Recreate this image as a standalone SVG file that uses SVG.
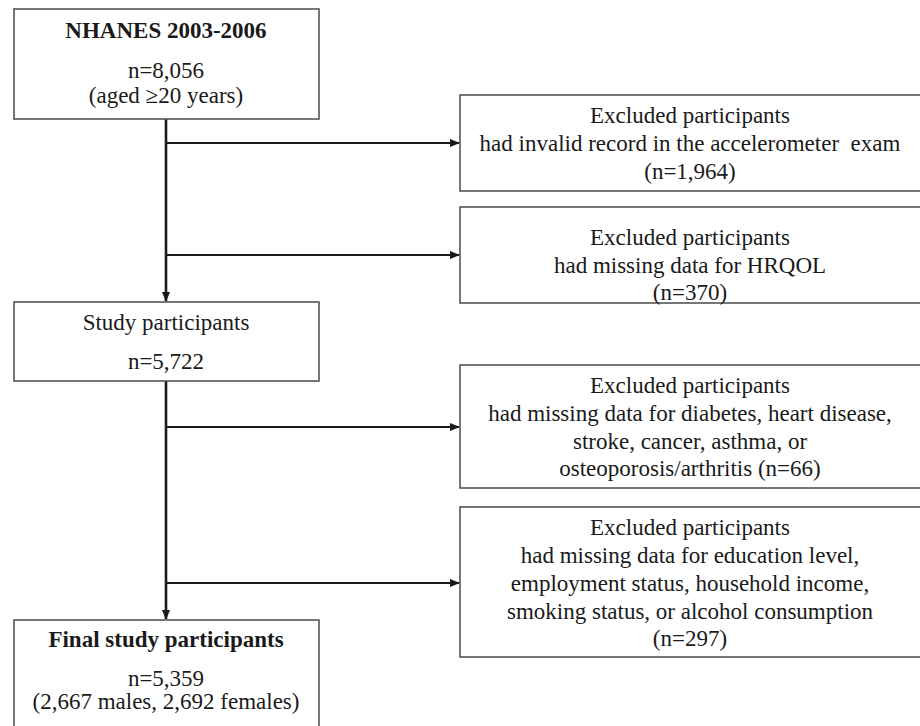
<svg xmlns="http://www.w3.org/2000/svg" width="920" height="726" viewBox="0 0 920 726">
<style>
  .box { fill: #ffffff; stroke: #555555; stroke-width: 1.6; }
  .t { font-family: "Liberation Serif", "Times New Roman", serif; font-size: 23px; fill: #1a1a1a; text-anchor: middle; }
  .b { font-weight: bold; }
  .trunk { stroke: #1a1a1a; stroke-width: 2.6; fill: none; }
  .branch { stroke: #1a1a1a; stroke-width: 2.2; fill: none; }
</style>
<defs>
  <marker id="arr" markerWidth="10" markerHeight="8" refX="9" refY="4" orient="auto" markerUnits="userSpaceOnUse">
    <path d="M0,0 L10,4 L0,8 Z" fill="#1a1a1a"/>
  </marker>
</defs>
<rect width="920" height="726" fill="#ffffff"/>

<g id="connectors">
  <path class="trunk" d="M166,119 V301" marker-end="url(#arr)"/>
  <path class="branch" d="M166,143 H459" marker-end="url(#arr)"/>
  <path class="branch" d="M166,255 H459" marker-end="url(#arr)"/>
  <path class="trunk" d="M166,381 V619" marker-end="url(#arr)"/>
  <path class="branch" d="M166,427 H459" marker-end="url(#arr)"/>
  <path class="branch" d="M166,583 H459" marker-end="url(#arr)"/>
</g>

<g id="nhanes">
  <rect class="box" x="14" y="9" width="305" height="110"/>
  <text class="t b" x="166" y="38">NHANES 2003-2006</text>
  <text class="t" x="166" y="78">n=8,056</text>
  <text class="t" x="166" y="103">(aged ≥20 years)</text>
</g>

<g id="excluded-accelerometer">
  <rect class="box" x="460" y="95" width="462" height="96"/>
  <text class="t" x="690" y="123">Excluded participants</text>
  <text class="t" x="690" y="151" xml:space="preserve">had invalid record in the accelerometer  exam</text>
  <text class="t" x="690" y="179">(n=1,964)</text>
</g>

<g id="excluded-hrqol">
  <rect class="box" x="460" y="207" width="462" height="96"/>
  <text class="t" x="690" y="245">Excluded participants</text>
  <text class="t" x="690" y="272.5">had missing data for HRQOL</text>
  <text class="t" x="690" y="300">(n=370)</text>
</g>

<g id="study">
  <rect class="box" x="14" y="302" width="305" height="79"/>
  <text class="t" x="166" y="330">Study participants</text>
  <text class="t" x="166" y="369">n=5,722</text>
</g>

<g id="excluded-disease">
  <rect class="box" x="460" y="365" width="462" height="123"/>
  <text class="t" x="690" y="393">Excluded participants</text>
  <text class="t" x="690" y="421">had missing data for diabetes, heart disease,</text>
  <text class="t" x="690" y="448.5">stroke, cancer, asthma, or</text>
  <text class="t" x="690" y="476">osteoporosis/arthritis (n=66)</text>
</g>

<g id="excluded-socio">
  <rect class="box" x="460" y="507" width="462" height="150"/>
  <text class="t" x="690" y="535">Excluded participants</text>
  <text class="t" x="690" y="563">had missing data for education level,</text>
  <text class="t" x="690" y="591">employment status, household income,</text>
  <text class="t" x="690" y="618.5">smoking status, or alcohol consumption</text>
  <text class="t" x="690" y="646">(n=297)</text>
</g>

<g id="final">
  <rect class="box" x="14" y="620" width="305" height="112"/>
  <text class="t b" x="166" y="647">Final study participants</text>
  <text class="t" x="166" y="686">n=5,359</text>
  <text class="t" x="166" y="709">(2,667 males, 2,692 females)</text>
</g>
</svg>
